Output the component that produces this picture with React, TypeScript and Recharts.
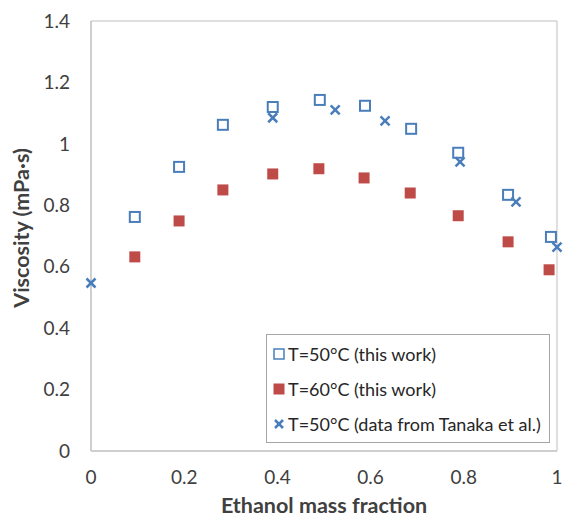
import React from 'react';
import { ScatterChart, Scatter, XAxis, YAxis, ReferenceArea, Label } from 'recharts';

// ethanol mass fraction / viscosity (mPa·s)
const fraction50 = [0.094, 0.189, 0.283, 0.39, 0.491, 0.588, 0.687, 0.788, 0.895, 0.987];
const viscosity50 = [0.762, 0.925, 1.062, 1.12, 1.143, 1.124, 1.049, 0.971, 0.834, 0.697];

const fraction60 = [0.094, 0.189, 0.283, 0.39, 0.489, 0.586, 0.685, 0.788, 0.895, 0.983];
const viscosity60 = [0.632, 0.749, 0.85, 0.902, 0.919, 0.889, 0.84, 0.766, 0.681, 0.59];

const fractionTanaka = [0, 0.39, 0.524, 0.631, 0.792, 0.912, 1.0];
const viscosityTanaka = [0.547, 1.085, 1.111, 1.075, 0.941, 0.811, 0.664];

const xTicks = [0, 0.2, 0.4, 0.6, 0.8, 1];
const yTicks = [0, 0.2, 0.4, 0.6, 0.8, 1, 1.2, 1.4];

const seriesNames = ['T=50°C (this work)', 'T=60°C (this work)', 'T=50°C (data from Tanaka et al.)'];

const BLUE = '#4a7ebb';
const RED = '#be4b48';
const FONT = 'Lato, "Open Sans", sans-serif';

const toPoints = (xs: number[], ys: number[]) => xs.map((x, i) => ({ x, y: ys[i] }));

const OpenSquare = (props: any) => {
    const { cx, cy } = props;
    return <rect x={cx - 5} y={cy - 5} width={10} height={10} fill="#fff" stroke={BLUE} strokeWidth={2} />;
};

const FilledSquare = (props: any) => {
    const { cx, cy } = props;
    return <rect x={cx - 5.5} y={cy - 5.5} width={11} height={11} fill={RED} />;
};

const Cross = (props: any) => {
    const { cx, cy } = props;
    const h = 4.5;
    return (
        <g stroke={BLUE} strokeWidth={2.5}>
            <line x1={cx - h} y1={cy - h} x2={cx + h} y2={cy + h} />
            <line x1={cx - h} y1={cy + h} x2={cx + h} y2={cy - h} />
        </g>
    );
};

const LegendBox = () => {
    const icons = [
        <rect x={2} y={2} width={10} height={10} fill="#fff" stroke={BLUE} strokeWidth={1.5} />,
        <rect x={1.5} y={1.5} width={11} height={11} fill={RED} />,
        <g stroke={BLUE} strokeWidth={2.5}>
            <line x1={3} y1={3} x2={11} y2={11} />
            <line x1={3} y1={11} x2={11} y2={3} />
        </g>,
    ];
    return (
        <div style={{ position: 'absolute', left: 266, top: 334, width: 284, height: 109, boxSizing: 'border-box', border: '1px solid #a6a6a6', background: '#fff', padding: '1px 0 0 5px', fontFamily: FONT, fontSize: 18, color: '#262626' }}>
            {seriesNames.map((name, i) => (
                <div key={name} style={{ display: 'flex', alignItems: 'center', height: 35, whiteSpace: 'nowrap' }}>
                    <svg width={14} height={14} style={{ marginRight: 2 }}>{icons[i]}</svg>
                    <span>{name}</span>
                </div>
            ))}
        </div>
    );
};

export default function App() {
    return (
        <div style={{ position: 'absolute', left: 0, top: 0, width: 564, height: 524, background: '#fff' }}>
            <ScatterChart width={564} height={524} margin={{ top: 21, right: 7, bottom: 43, left: 31 }}>
                <XAxis
                    type="number"
                    dataKey="x"
                    domain={[0, 1]}
                    ticks={xTicks}
                    tickLine={false}
                    tickSize={0}
                    tickMargin={20}
                    height={30}
                    stroke="#bfbfbf"
                    tick={{ fill: '#404040', fontSize: 19, fontFamily: FONT }}
                >
                    <Label
                        content={() => (
                            <text x={324} y={505} textAnchor="middle" dominantBaseline="central" fontFamily={FONT} fontSize={21.5} fontWeight="bold" fill="#404040">
                                Ethanol mass fraction
                            </text>
                        )}
                    />
                </XAxis>
                <YAxis
                    type="number"
                    dataKey="y"
                    domain={[0, 1.4]}
                    ticks={yTicks}
                    tickLine={false}
                    tickSize={0}
                    tickMargin={21}
                    width={60}
                    stroke="#bfbfbf"
                    tick={{ fill: '#404040', fontSize: 19, fontFamily: FONT }}
                >
                    <Label
                        content={() => (
                            <text x={21} y={228} transform="rotate(-90 21 228)" textAnchor="middle" dominantBaseline="central" fontFamily={FONT} fontSize={21.5} fontWeight="bold" fill="#404040">
                                Viscosity (mPa·s)
                            </text>
                        )}
                    />
                </YAxis>
                <ReferenceArea x1={0} x2={1} y1={0} y2={1.4} fill="none" stroke="#bfbfbf" strokeWidth={1} />
                <Scatter name={seriesNames[0]} data={toPoints(fraction50, viscosity50)} shape={OpenSquare} isAnimationActive={false} />
                <Scatter name={seriesNames[1]} data={toPoints(fraction60, viscosity60)} shape={FilledSquare} isAnimationActive={false} />
                <Scatter name={seriesNames[2]} data={toPoints(fractionTanaka, viscosityTanaka)} shape={Cross} isAnimationActive={false} />
            </ScatterChart>
            <LegendBox />
        </div>
    );
}
